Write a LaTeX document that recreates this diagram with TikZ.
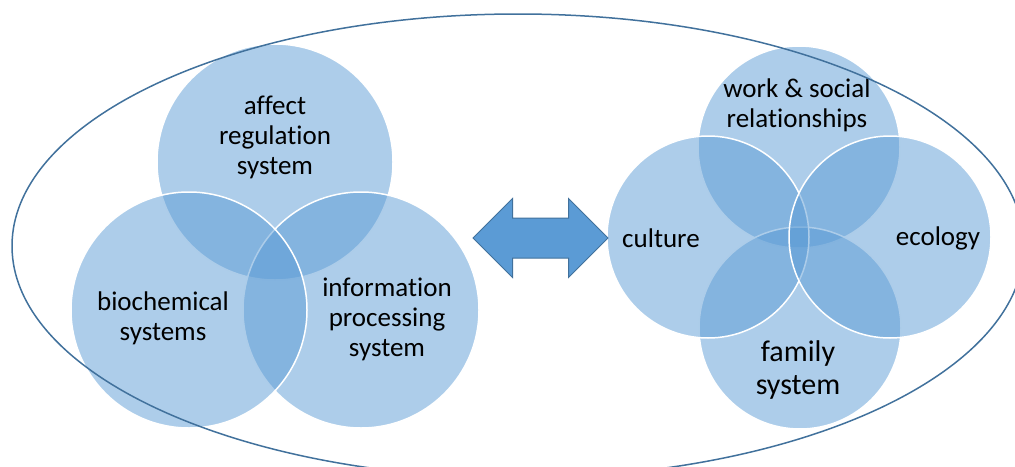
\documentclass[tikz,border=0pt]{standalone}
\usepackage{fontspec}
\setmainfont[Ligatures={NoCommon}]{Carlito}
\usepackage{tikz}
\usetikzlibrary{positioning,calc,shapes.arrows,shapes.geometric}
\definecolor{vennblue}{HTML}{5B9BD5}
\definecolor{vennline}{HTML}{41719C}

\begin{document}
\begin{tikzpicture}[x=1pt, y=-1pt, font=\fontsize{27}{30}\selectfont,
  bigcircle/.style={circle, draw=white, line width=1.5pt, fill=vennblue, fill opacity=0.5, draw opacity=1, minimum size=236pt, inner sep=0pt},
  smallcircle/.style={bigcircle, minimum size=202pt},
  venntext/.style={align=center, text=black, inner sep=0pt}]
\useasboundingbox (0,0) rectangle (1015,466);
% individual level
\node[bigcircle] (affect) at (275,162) {};
\node[bigcircle] (info) at (361,310) {};
\node[bigcircle] (bio) at (189,310) {};
\node[venntext] (affecttext) at ($(affect)+(0,-25)$) {affect\\regulation\\system};
\node[venntext] (biotext) at ($(bio)+(-26,8)$) {biochemical\\systems};
\node[venntext] (infotext) at ($(info)+(26,9)$) {information\\processing\\system};
% context level
\node[smallcircle] (work) at (799,147) {};
\node[smallcircle] (family) at (800,328) {};
\node[smallcircle] (culture) at (708,237) {};
\node[smallcircle] (ecology) at (890,237) {};
\node[venntext] (worktext) at ($(work)+(-2,-42)$) {work \& social\\relationships};
\node[venntext] (culturetext) at ($(culture)+(-47,1)$) {culture};
\node[venntext] (ecologytext) at ($(ecology)+(48,1)$) {ecology};
\node[venntext, font=\fontsize{30}{33}\selectfont] (familytext) at ($(family)+(-2,42)$) {family\\system};
% two-way link
\node[double arrow, fill=vennblue, draw=vennline, line width=1pt, minimum height=135pt,
  double arrow head extend=19.5pt, inner xsep=0pt, inner ysep=19.5pt] (link) at (540.5,238) {};
% outer boundary
\node[ellipse, draw=vennline, line width=1.5pt, minimum width=1012pt, minimum height=464pt, inner sep=0pt] (whole) at (518,246) {};
\end{tikzpicture}
\end{document}
